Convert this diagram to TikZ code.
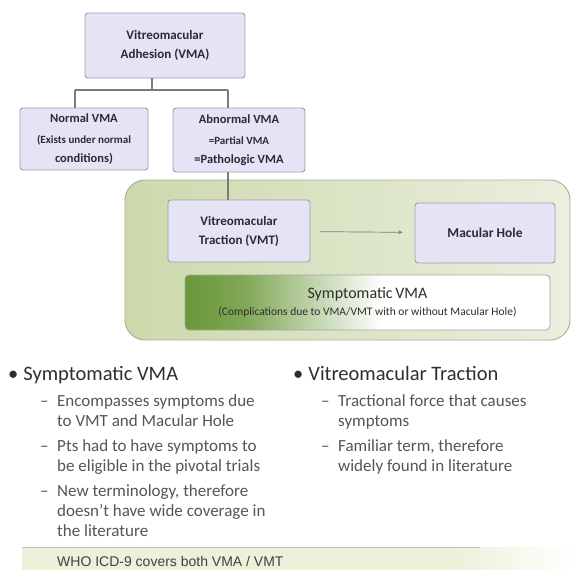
\documentclass[tikz,border=0pt]{standalone}
\usepackage{fontspec}
\setmainfont{Carlito}
\newfontfamily\arialfont{Liberation Sans}
\usetikzlibrary{arrows.meta}

\definecolor{boxfill}{HTML}{E6E4F4}
\definecolor{boxline}{HTML}{9E9CB4}
\definecolor{boxtext}{HTML}{2A2A38}
\definecolor{treeline}{HTML}{7A7A7A}
\definecolor{groupleft}{HTML}{CCD9AC}
\definecolor{groupright}{HTML}{EBEFDF}
\definecolor{groupline}{HTML}{A9AD9C}
\definecolor{symgreen}{HTML}{6A9838}
\definecolor{headtext}{HTML}{2E2E2E}
\definecolor{subtext}{HTML}{555555}
\definecolor{bandfill}{HTML}{EEF0DA}

\pgfdeclarehorizontalshading{symfade}{100bp}{color(0bp)=(symgreen); color(25bp)=(symgreen); color(33bp)=(symgreen!85!white); color(52bp)=(white); color(100bp)=(white)}
\pgfdeclarehorizontalshading{bandfade}{100bp}{color(0bp)=(bandfill); color(25bp)=(bandfill); color(64bp)=(bandfill); color(75bp)=(white); color(100bp)=(white)}

\begin{document}
\begin{tikzpicture}[
  x=1pt, y=-1pt,
  box/.style={draw=boxline, line width=0.9pt, fill=boxfill, rounded corners=3pt,
    align=center, text=boxtext, inner sep=2pt,
    font=\bfseries\fontsize{12.5}{19}\selectfont},
  group/.style={draw=groupline, line width=0.9pt, left color=groupleft,
    right color=groupright, rounded corners=20pt, inner sep=0pt},
  symbox/.style={draw=black!35, line width=0.8pt, shading=symfade,
    rounded corners=4pt, align=center, text=headtext, inner sep=0pt,
    font=\fontsize{16}{17}\selectfont},
  tree/.style={draw=treeline, line width=1.1pt},
  arrow/.style={-{Stealth[length=4pt,width=4pt]}, draw=treeline, line width=0.7pt,
    shorten <=10pt, shorten >=12pt},
  headline/.style={anchor=base west, text=headtext, inner sep=0pt,
    font=\fontsize{20.5}{24}\selectfont},
  subline/.style={anchor=base west, align=left, text=subtext, inner sep=0pt,
    font=\fontsize{17}{20}\selectfont}
]
\useasboundingbox (0,0) rectangle (574,570);

% tree of VMA boxes
\node[box, minimum width=160pt, minimum height=65pt, font=\bfseries\fontsize{13}{19}\selectfont] (vma) at (165,45.5)
  {Vitreomacular\\Adhesion (VMA)};
\node[box, minimum width=128pt, minimum height=62pt] (normal) at (84,139)
  {Normal VMA\\[2pt]\fontsize{11}{16}\selectfont(Exists under normal\\conditions)};
\node[box, minimum width=132pt, minimum height=64pt] (abnormal) at (239,140)
  {Abnormal VMA\\[2pt]\fontsize{11}{16}\selectfont=Partial VMA\\=Pathologic VMA};

\coordinate (stem) at (152,90);
\coordinate (jointL) at (75,90);
\coordinate (jointR) at (228,90);
\draw[tree] (stem |- vma.south) -- (stem);
\draw[tree] (jointL) -- (jointR);
\draw[tree] (jointL) -- (jointL |- normal.north);
\draw[tree] (jointR) -- (jointR |- abnormal.north);

% green group
\node[group, minimum width=445pt, minimum height=160pt] (group) at (347.5,260) {};
\node[box, minimum width=142pt, minimum height=62pt, font=\bfseries\fontsize{13}{19}\selectfont] (vmt) at (239,231)
  {Vitreomacular\\Traction (VMT)};
\node[box, minimum width=140pt, minimum height=60pt, font=\bfseries\fontsize{13.5}{19}\selectfont] (hole) at (485,233)
  {Macular Hole};
\node[symbox, minimum width=365pt, minimum height=55pt] (symp) at (367.5,302.5)
  {Symptomatic\,VMA\\\fontsize{11.5}{14}\selectfont(Complications due to VMA/VMT with or without Macular Hole)};

\draw[tree] (jointR |- abnormal.south) -- (jointR |- vmt.north);
\draw[arrow] (vmt) -- (hole);

% bullet text
\node[headline] (symhead) at (8,380) {•\hspace{5pt}Symptomatic VMA};
\node[subline] (symone) at (40,426)
  {\makebox[17pt][l]{–}Encompasses symptoms due\\\hspace*{17pt}to VMT and Macular Hole};
\node[subline] (symtwo) at (40,471)
  {\makebox[17pt][l]{–}Pts had to have symptoms to\\\hspace*{17pt}be eligible in the pivotal trials};
\node[subline] (symthree) at (40,536)
  {\makebox[17pt][l]{–}New terminology, therefore\\\hspace*{17pt}doesn't have wide coverage in\\\hspace*{17pt}the literature};

\node[headline] (vmthead) at (293,380) {•\hspace{5pt}Vitreomacular Traction};
\node[subline] (vmtone) at (321,426)
  {\makebox[17pt][l]{–}Tractional force that causes\\\hspace*{17pt}symptoms};
\node[subline] (vmttwo) at (321,471)
  {\makebox[17pt][l]{–}Familiar term, therefore\\\hspace*{17pt}widely found in literature};

% ICD band
\path[shading=bandfade] (22,547) rectangle (574,570);
\draw[draw=black!25, line width=0.8pt] (22,547) -- (480,547);
\node[anchor=base west, inner sep=0pt, text=black!75, font=\arialfont\fontsize{14}{16}\selectfont]
  (icd) at (57,566) {WHO ICD-9 covers both VMA / VMT};
\end{tikzpicture}
\end{document}
